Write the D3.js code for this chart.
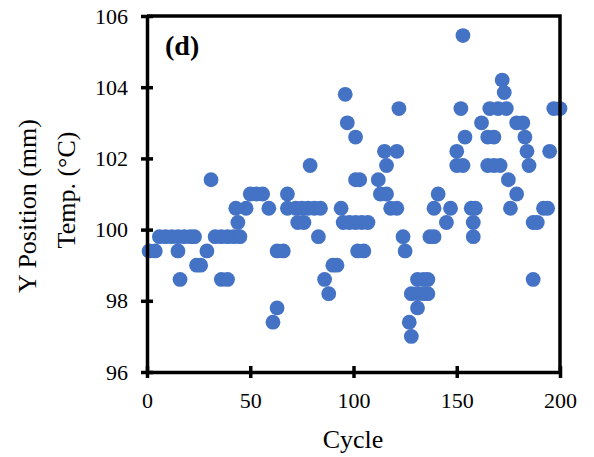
<!DOCTYPE html>
<html>
<head>
<meta charset="utf-8">
<script src="https://cdn.jsdelivr.net/npm/d3@7"></script>
<style>
  body { margin: 0; background: #fff; }
  svg { display: block; }
  text { font-family: "Liberation Serif", "Times New Roman", "DejaVu Serif", serif; fill: #000; }
</style>
</head>
<body>
<svg width="594" height="457"></svg>
<script>
// cycle / temperature pairs
const cycles = [
  1, 4, 6, 9, 12, 15, 18, 21, 23, 15, 29, 24, 26, 16, 31,
  33, 36, 39, 42, 45, 36, 39, 43, 48, 44,
  50, 53, 56, 59, 68, 68, 63, 66, 63, 61,
  72, 75, 78, 81, 84, 73, 76, 79, 83, 86, 88, 90, 92, 94,
  95, 98, 101, 104, 107, 96, 97, 101, 101, 103, 102, 105,
  112, 113, 116, 115, 121, 116, 118, 121, 122, 124, 125,
  131, 134, 136, 128, 131, 134, 136, 131, 127, 128,
  137, 139, 139, 141, 145, 147, 150, 153, 150, 152, 153, 154,
  157, 159, 158, 158, 162, 165, 168, 165, 168, 171,
  166, 170, 174, 172, 173, 175, 179, 176, 179, 182,
  183, 184, 185, 187, 189, 192, 194, 187, 195, 197, 200
];
const temps = [
  99.4, 99.4, 99.8, 99.8, 99.8, 99.8, 99.8, 99.8, 99.8, 99.4, 99.4, 99.0, 99.0, 98.6, 101.4,
  99.8, 99.8, 99.8, 99.8, 99.8, 98.6, 98.6, 100.6, 100.6, 100.2,
  101.0, 101.0, 101.0, 100.6, 100.6, 101.0, 99.4, 99.4, 97.8, 97.4,
  100.6, 100.6, 100.6, 100.6, 100.6, 100.2, 100.2, 101.8, 99.8, 98.6, 98.2, 99.0, 99.0, 100.6,
  100.2, 100.2, 100.2, 100.2, 100.2, 103.8, 103.0, 102.6, 101.4, 101.4, 99.4, 99.4,
  101.4, 101.0, 101.0, 102.2, 102.2, 101.8, 100.6, 100.6, 103.4, 99.8, 99.4,
  98.6, 98.6, 98.6, 98.2, 98.2, 98.2, 98.2, 97.8, 97.4, 97.0,
  99.8, 99.8, 100.6, 101.0, 100.2, 100.6, 101.8, 101.8, 102.2, 103.4, 105.45, 102.6,
  100.6, 100.6, 100.2, 99.8, 103.0, 102.6, 102.6, 101.8, 101.8, 101.8,
  103.4, 103.4, 103.4, 104.2, 103.85, 101.4, 101.0, 100.6, 103.0, 103.0,
  102.6, 102.2, 101.8, 100.2, 100.2, 100.6, 100.6, 98.6, 102.2, 103.4, 103.4
];
const xTicks = [0, 50, 100, 150, 200];
const yTicks = [96, 98, 100, 102, 104, 106];

const data = cycles.map((c, i) => ({ cycle: c, temp: temps[i] }));

const svg = d3.select('svg');
const plotLeft = 147, plotRight = 560, plotTop = 16, plotBottom = 372;
const serif = '"Liberation Serif", "Times New Roman", "DejaVu Serif", serif';

const xScale = d3.scaleLinear().domain([0, 200]).range([plotLeft, plotRight]);
const yScale = d3.scaleLinear().domain([96, 106]).range([plotBottom, plotTop]);

// dots first, frame on top
svg.append('g')
  .selectAll('circle')
  .data(data)
  .enter()
  .append('circle')
  .attr('cx', d => xScale(d.cycle))
  .attr('cy', d => yScale(d.temp))
  .attr('r', 7.4)
  .attr('fill', '#4472c4');

// top and right border
svg.append('path')
  .attr('d', `M${plotLeft},${plotTop}H${plotRight}V${plotBottom}`)
  .attr('fill', 'none')
  .attr('stroke', '#000')
  .attr('stroke-width', 3.5);

const yAxis = d3.axisLeft(yScale).tickValues(yTicks).tickSize(0).tickPadding(19);
const xAxis = d3.axisBottom(xScale).tickValues(xTicks).tickSize(0).tickPadding(20);

const gy = svg.append('g')
  .attr('transform', `translate(${plotLeft},0)`)
  .call(yAxis);
const gx = svg.append('g')
  .attr('transform', `translate(0,${plotBottom})`)
  .call(xAxis);

[gy, gx].forEach(g => {
  g.attr('font-family', serif);
  g.select('.domain').attr('stroke', '#000').attr('stroke-width', 3.5);
  g.selectAll('text')
    .style('font-family', serif)
    .style('font-size', '22px')
    .attr('fill', '#000');
});

// crossing tick marks
gy.selectAll('.tick').append('line')
  .attr('x1', -6).attr('x2', 6)
  .attr('stroke', '#000').attr('stroke-width', 3.5);
gx.selectAll('.tick').append('line')
  .attr('y1', -6).attr('y2', 6)
  .attr('stroke', '#000').attr('stroke-width', 3.5);

svg.append('text')
  .attr('x', 353)
  .attr('y', 448)
  .attr('text-anchor', 'middle')
  .style('font-size', '26px')
  .text('Cycle');

svg.append('text')
  .attr('transform', 'translate(36,206) rotate(-90)')
  .attr('text-anchor', 'middle')
  .style('font-size', '26px')
  .text('Y Position (mm)');

svg.append('text')
  .attr('transform', 'translate(75,190) rotate(-90)')
  .attr('text-anchor', 'middle')
  .style('font-size', '26px')
  .text('Temp. (°C)');

svg.append('text')
  .attr('x', 165)
  .attr('y', 55)
  .style('font-size', '28px')
  .style('font-weight', 'bold')
  .text('(d)');
</script>
</body>
</html>
